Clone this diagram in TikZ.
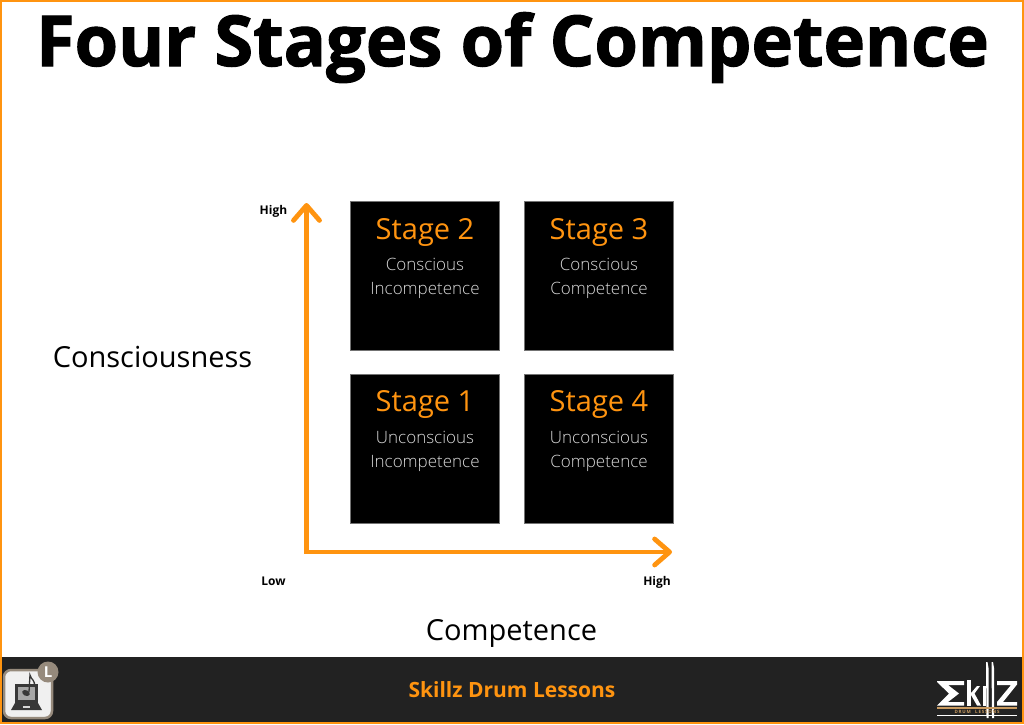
\documentclass[tikz,border=0pt]{standalone}
\usepackage{fontspec}
\setmainfont{Open Sans}
\newfontfamily\lightfont{Open Sans Light}
\newfontfamily\heavyfont[BoldFeatures={FakeBold=1.6}]{Open Sans}
\usetikzlibrary{arrows.meta}
\definecolor{skorange}{HTML}{FF9410}
\definecolor{skbar}{HTML}{222222}
\definecolor{sktan}{HTML}{C89A60}
\definecolor{skbadge}{HTML}{968A7C}
\tikzset{
  stagebox/.style={draw=black!55,line width=0.5pt,fill=black,minimum width=149pt,minimum height=149pt,inner sep=0pt,anchor=north west},
  stagehead/.style={text=skorange,font=\fontsize{29}{29}\selectfont,anchor=base,inner sep=0pt},
  stagetext/.style={text=black!15,font=\lightfont\fontsize{17}{17}\selectfont,anchor=base,inner sep=0pt},
  axislabel/.style={font=\fontsize{29}{29}\selectfont,anchor=base,inner sep=0pt},
  endlabel/.style={font=\bfseries\fontsize{12}{12}\selectfont,anchor=base,inner sep=0pt},
  axisarrow/.style={draw=skorange,line width=4.8pt,-{Straight Barb[length=15pt,width=26pt,round,line width=4.8pt]}},
}
\begin{document}
\begin{tikzpicture}[x=1pt,y=-1pt]
\useasboundingbox (0,0) rectangle (1024,724);
\fill[white] (0,0) rectangle (1024,724);
% footer bar
\fill[skbar] (0,657) rectangle (1024,724);
\draw[skorange,line width=2pt] (1,1) rectangle (1023,723);
% title
\node (title) at (512.5,66) [anchor=base,inner sep=0pt,font=\heavyfont\bfseries\fontsize{70.3}{70.3}\selectfont] {Four Stages of Competence};
% boxes
\node (box2) at (350,200.5) [stagebox] {};
\node (box3) at (524,200.5) [stagebox] {};
\node (box1) at (350,373.5) [stagebox] {};
\node (box4) at (524,373.5) [stagebox] {};
\node (head2) at (425,239) [stagehead] {Stage 2};
\node (head3) at (599,239) [stagehead] {Stage 3};
\node (head1) at (425,411.5) [stagehead] {Stage 1};
\node (head4) at (599,411.5) [stagehead] {Stage 4};
\node (top2) at (425,270) [stagetext] {Conscious};
\node (low2) at (425,294) [stagetext] {Incompetence};
\node (top3) at (599,270) [stagetext] {Conscious};
\node (low3) at (599,294) [stagetext] {Competence};
\node (top1) at (425,443) [stagetext] {Unconscious};
\node (low1) at (425,467) [stagetext] {Incompetence};
\node (top4) at (599,443) [stagetext] {Unconscious};
\node (low4) at (599,467) [stagetext] {Competence};
% axes
\coordinate (origin) at (306.5,552);
\coordinate (ytip) at (306.5,203);
\coordinate (xtip) at (672,552);
\draw[axisarrow,line cap=rect] (origin) -- (ytip);
\draw[axisarrow,line cap=rect] (origin) -- (xtip);
\node (yhigh) at (273.5,214) [endlabel] {High};
\node (xlow) at (273.5,585) [endlabel] {Low};
\node (xhigh) at (657,585) [endlabel] {High};
\node (ylabel) at (152.5,367) [axislabel] {Consciousness};
\node (xlabel) at (511.5,640) [axislabel] {Competence};
% footer
\node (brand) at (512,697.5) [anchor=base,inner sep=0pt,text=skorange,font=\bfseries\fontsize{21}{21}\selectfont] {Skillz Drum Lessons};
% app icon
\draw[skbadge,line width=2.5pt,fill=black!6,rounded corners=7pt] (4,670) rectangle (52,718);
\fill[black!78] (15,684) rectangle (38,703);
\fill[black!35] (18,687) rectangle (35,700);
\fill[black!78] (15,703) -- (38,703) -- (42,710) -- (11,710) -- cycle;
\fill[black!15] (23,705.5) rectangle (30,708);
\fill[black!78,rotate around={-25:(26,693)}] (26,693) ellipse (4pt and 2.8pt);
\draw[black!78,line width=1.3pt] (29,692) -- (30,675) .. controls (31,680) and (36,680) .. (34,687);
\fill[skbadge] (48,672) circle (10.5pt);
\node (badge) at (48,677.5) [anchor=base,inner sep=0pt,text=white,font=\bfseries\fontsize{15}{15}\selectfont] {L};
% logo
\fill[white] (937,681) -- (964,681) -- (964,685) -- (948,685) -- (959,693.5) -- (948,702) -- (964,702) -- (964,705.5) -- (937,705.5) -- (949,693.5) -- (937,682) -- cycle;
\fill[white] (966.5,680) rectangle (971,705.5);
\fill[white] (971,693) -- (977,686) -- (980,686) -- (974.5,693.5) -- (981,705.5) -- (977,705.5) -- (971,695) -- cycle;
\fill[white] (982.5,686) rectangle (986,705.5);
\fill[white] (986,662) -- (987.5,662) -- (988.5,668) -- (988.5,718) -- (986.5,718) -- cycle;
\fill[white] (991.5,662) -- (993,662) -- (994,668) -- (994,718) -- (992,718) -- cycle;
\fill[white] (997,681) -- (1017,681) -- (1017,684.5) -- (1003,702) -- (1017,702) -- (1017,705.5) -- (997,705.5) -- (997,702) -- (1011,685) -- (997,685) -- cycle;
\fill[sktan] (937,707) rectangle (1017,708.5);
\fill[white] (937,714.5) rectangle (1017,716);
\node (drumtext) at (977,711.5) [inner sep=0pt,text=sktan,font=\bfseries\fontsize{4.5}{4.5}\selectfont] {D\,R\,U\,M\quad L\,E\,S\,S\,O\,N\,S};
\end{tikzpicture}
\end{document}
